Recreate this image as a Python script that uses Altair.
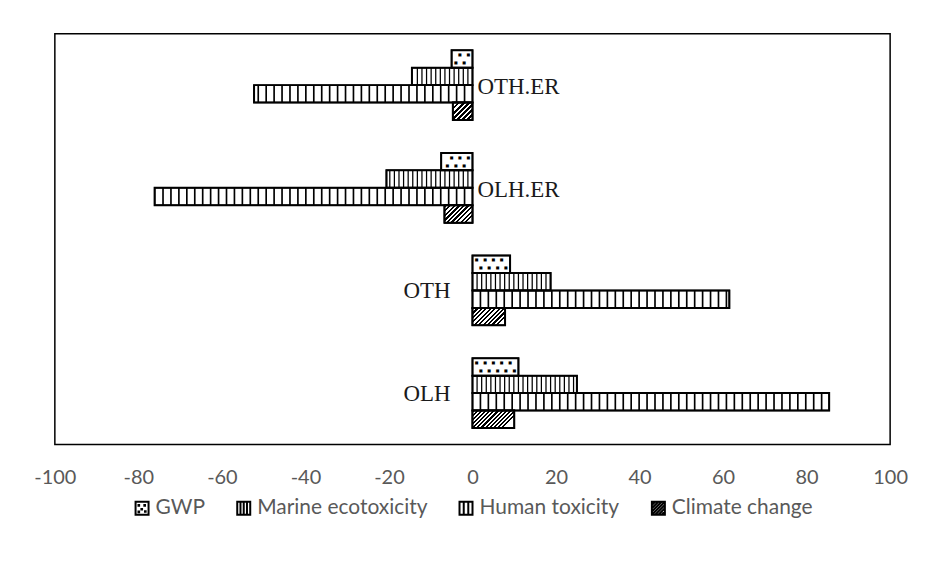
import math
import altair as alt
import pandas as pd

categories = ["OTH.ER", "OLH.ER", "OTH", "OLH"]
series = ["GWP", "Marine ecotoxicity", "Human toxicity", "Climate change"]
gwp = [-5.0, -7.5, 9.0, 11.0]
marine = [-14.5, -20.6, 18.7, 25.0]
human = [-52.3, -76.1, 61.5, 85.4]
climate = [-4.7, -6.7, 7.8, 10.0]
x_ticks = [-100, -80, -60, -40, -20, 0, 20, 40, 60, 80, 100]

W, H = 838, 412
PX = W / 200.0          # pixels per unit
BAR_H = H / 4 * 0.68 / 4  # approx bar thickness in px

values = {"GWP": gwp, "Marine ecotoxicity": marine, "Human toxicity": human, "Climate change": climate}
rows = []
for s in series:
    for c, v in zip(categories, values[s]):
        rows.append({"category": c, "series": s, "value": v, "mid": v / 2})
df = pd.DataFrame(rows)

# stripe texture rows derived from the values
def stripe_rows(s, step, width):
    out = []
    for c, v in zip(categories, values[s]):
        sgn = 1 if v > 0 else -1
        k = 1
        while k * step < abs(v) - 0.35:
            p = sgn * k * step
            out.append({"category": c, "series": s, "x0": p - width / 2, "x1": p + width / 2})
            k += 1
    return out

stripes = pd.DataFrame(stripe_rows("Marine ecotoxicity", 1.1, 0.3) + stripe_rows("Human toxicity", 1.9, 0.4))

def dot_rows(offset):
    out = []
    for c, v in zip(categories, gwp):
        sgn = 1 if v > 0 else -1
        p = offset
        while p < abs(v) - 0.5:
            out.append({"category": c, "series": "GWP", "p": sgn * p})
            p += 2.0
    return out

dotsA = pd.DataFrame(dot_rows(1.0))
dotsB = pd.DataFrame(dot_rows(2.0))

labels = pd.DataFrame({"category": categories, "sign": [1 if v > 0 else -1 for v in human]})

yenc = alt.Y("category:N", axis=None,
             scale=alt.Scale(domain=categories, paddingInner=0.32, paddingOuter=0.16))
yoff = alt.YOffset("series:N", scale=alt.Scale(domain=series, paddingInner=0, paddingOuter=0))
xscale = alt.Scale(domain=[-100, 100], nice=False, zero=False)
xaxis = alt.Axis(values=x_ticks, title=None, ticks=False, domain=False, grid=False,
                 labelExpr="datum.value + ''", labelFlush=False,
                 labelFont="Lato", labelFontSize=20, labelColor="#595959", labelPadding=23)

shape_paths = [
    "M-1,-1H1V1H-1Z M-0.55,-0.5h0.1v0.1h-0.1Z M0.35,-0.5h0.1v0.1h-0.1Z M-0.1,0.1h0.1v0.1h-0.1Z M-0.55,0.5h0.1v0.1h-0.1Z M0.45,0.45h0.1v0.1h-0.1Z",
    "M-1,-1H1V1H-1Z M-0.5,-1V1 M0,-1V1 M0.5,-1V1",
    "M-1,-1H1V1H-1Z M-0.35,-1V1 M0.35,-1V1",
    "M-1,-1H1V1H-1Z M-1,0L0,-1 M-1,1L1,-1 M0,1L1,0 M-1,-0.5L-0.5,-1 M-1,0.5L0.5,-1 M-0.5,1L1,-0.5 M0.5,1L1,0.5",
]

legend_layer = alt.Chart(df).mark_point(size=150, filled=False, strokeWidth=2, opacity=1).encode(
    x=alt.X("mid:Q", scale=xscale, axis=xaxis),
    y=yenc, yOffset=yoff,
    color=alt.value("black"),
    shape=alt.Shape("series:N", scale=alt.Scale(domain=series, range=shape_paths),
                    legend=alt.Legend(title=None, orient="none", direction="horizontal",
                                      legendX=77, legendY=465, padding=0, labelLimit=400,
                                      labelFont="Lato", labelFontSize=21, labelColor="#595959",
                                      symbolSize=170, symbolStrokeWidth=2,
                                      columnPadding=27, labelOffset=3)),
)

bars = alt.Chart(df).mark_bar(fill="white", stroke="black", strokeWidth=1.5).encode(
    x=alt.X("value:Q", scale=xscale, axis=xaxis), x2=alt.datum(0), y=yenc, yOffset=yoff)

stripe_layer = alt.Chart(stripes).mark_bar(fill="black").encode(
    x=alt.X("x0:Q", scale=xscale), x2="x1:Q", y=yenc, yOffset=yoff)

dotA_layer = alt.Chart(dotsA).mark_text(text="■", fontSize=4, dy=-4, color="black",
                                        font="DejaVu Sans").encode(
    x=alt.X("p:Q", scale=xscale), y=yenc, yOffset=yoff)
dotB_layer = alt.Chart(dotsB).mark_text(text="■", fontSize=4, dy=4, color="black",
                                        font="DejaVu Sans").encode(
    x=alt.X("p:Q", scale=xscale), y=yenc, yOffset=yoff)

# diagonal hatch for climate change via per-bar gradient
climate_layers = []
period = 3.6
for c, v in zip(categories, climate):
    w = abs(v) * PX
    h = BAR_H
    L = math.sqrt(w * w + (h ** 4) / (w * w))
    n = L / period
    stops = []
    i = 0
    while i / n < 1:
        a = i / n
        b = min((i + 0.5) / n, 1)
        e = min((i + 1) / n, 1)
        stops += [{"offset": a, "color": "black"}, {"offset": b, "color": "black"},
                  {"offset": b, "color": "white"}, {"offset": e, "color": "white"}]
        i += 1
    grad = {"gradient": "linear", "x1": 0, "y1": 0, "x2": 1, "y2": h / w, "stops": stops}
    sub = df[(df.series == "Climate change") & (df.category == c)]
    climate_layers.append(
        alt.Chart(sub).mark_bar(fill=grad, stroke="black", strokeWidth=1.5).encode(
            x=alt.X("value:Q", scale=xscale), x2=alt.datum(0), y=yenc, yOffset=yoff))

outline = alt.Chart(df).mark_bar(fill="transparent", stroke="black", strokeWidth=2).encode(
    x=alt.X("value:Q", scale=xscale), x2=alt.datum(0), y=yenc, yOffset=yoff)

lab_neg = alt.Chart(labels).transform_filter("datum.sign < 0").mark_text(
    align="left", baseline="middle", dx=5, dy=2, font="Liberation Serif", fontSize=23, color="#1a1a1a").encode(
    x=alt.datum(0), y=yenc, text="category:N")
lab_pos = alt.Chart(labels).transform_filter("datum.sign > 0").mark_text(
    align="right", baseline="middle", dx=-22, dy=1, font="Liberation Serif", fontSize=23, color="#1a1a1a").encode(
    x=alt.datum(0), y=yenc, text="category:N")

chart = alt.layer(legend_layer, bars, stripe_layer, dotA_layer, dotB_layer, *climate_layers,
                  outline, lab_neg, lab_pos).properties(
    width=W, height=H,
    padding={"left": 47, "top": 25, "right": 40, "bottom": 100},
    autosize=alt.AutoSizeParams(type="none"),
).configure_view(stroke="black", strokeWidth=1.5)

chart.save("out.html", embed_options={"renderer": "svg", "actions": False})
